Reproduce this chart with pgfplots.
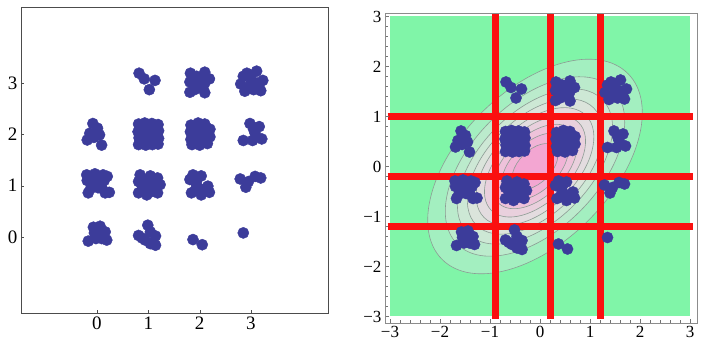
\documentclass[border=0pt]{standalone}
\usepackage{fontspec}
\setmainfont{Liberation Serif}
\usepackage{pgfplots}
\usepackage{pgfplotstable}
\pgfplotsset{compat=1.18}
\definecolor{ptc}{HTML}{3C3C9A}
\definecolor{bg}{HTML}{80F5A8}
\definecolor{c1}{HTML}{A3EFC0}
\definecolor{c2}{HTML}{BBEBCC}
\definecolor{c3}{HTML}{CDE8D5}
\definecolor{c4}{HTML}{DBE4DB}
\definecolor{c5}{HTML}{E3DCDF}
\definecolor{c6}{HTML}{E9D0DD}
\definecolor{c7}{HTML}{EEC2DA}
\definecolor{c8}{HTML}{F1B3D6}
\definecolor{c9}{HTML}{F3A6D2}
\definecolor{cl}{HTML}{8C9C94}
\definecolor{redl}{HTML}{FA1010}

% sample points (left panel coordinates)
\pgfplotstableread{
x y
0.82 3.19
0.92 3.08
1.13 3.05
1.02 2.87
1.82 3.19
2.10 3.21
2.19 3.08
1.81 3.02
2.00 3.03
2.06 2.90
1.81 2.82
2.10 2.81
1.94 3.13
1.90 2.87
2.08 3.10
1.92 2.95
2.10 3.00
2.92 3.19
3.11 3.23
3.23 3.05
2.80 2.98
2.88 2.84
3.19 2.85
3.01 3.03
3.05 2.87
2.85 3.13
3.00 3.15
3.12 3.00
2.95 2.92
3.15 2.95
-0.08 2.21
0.01 2.12
-0.14 2.02
0.05 1.99
-0.19 1.89
0.09 1.79
-0.06 1.94
0.81 2.20
0.93 2.22
1.07 2.21
1.19 2.19
0.80 2.05
1.20 2.07
0.82 1.93
1.20 1.92
0.81 1.80
0.95 1.79
1.08 1.80
1.19 1.81
0.95 2.00
1.05 1.95
1.00 2.10
1.10 2.05
0.90 1.90
0.88 2.12
1.12 2.12
0.88 1.88
1.12 1.88
1.83 2.18
1.97 2.22
2.10 2.20
2.20 2.10
1.82 2.05
2.20 1.95
1.83 1.90
1.85 1.80
2.00 1.79
2.15 1.82
1.95 2.00
2.05 2.00
2.00 2.10
2.10 1.90
1.92 1.90
1.90 2.12
2.12 2.10
2.00 1.90
2.98 2.21
3.16 2.15
3.08 2.02
2.85 1.88
3.03 1.88
3.21 1.91
3.05 2.10
-0.20 1.21
-0.04 1.23
0.12 1.21
0.20 1.18
-0.07 1.04
0.07 1.02
-0.17 0.86
0.16 0.86
0.24 0.87
-0.12 0.95
-0.19 1.10
0.10 0.95
0.00 1.12
-0.10 1.14
0.14 1.10
0.02 0.96
0.84 1.21
1.04 1.19
1.18 1.15
0.81 1.08
1.23 1.02
0.97 1.02
0.81 0.86
0.97 0.82
1.18 0.86
1.10 0.95
0.90 0.95
0.92 1.10
1.10 1.10
1.05 0.88
0.88 1.00
1.87 1.21
2.03 1.19
1.94 1.02
2.16 0.99
2.19 0.87
1.84 0.86
2.03 0.82
1.81 1.12
1.95 1.12
2.08 0.93
1.92 0.92
2.79 1.13
2.95 1.08
3.08 1.18
3.19 1.15
2.90 0.97
-0.07 0.19
0.06 0.21
0.16 0.10
0.03 0.03
-0.17 -0.08
-0.02 -0.03
0.19 -0.06
0.09 -0.03
-0.05 0.08
0.10 0.12
0.99 0.23
1.04 0.10
1.14 0.02
0.81 0.03
0.94 -0.06
1.14 -0.16
1.04 -0.13
0.88 -0.02
1.87 -0.05
2.05 -0.15
2.85 0.08
}\pts

\begin{document}
\begin{tikzpicture}[x=1pt,y=1pt]
\path[use as bounding box] (0,0) rectangle (709,352);
% ---------------- left panel
\begin{axis}[
  at={(21pt,39pt)}, anchor=south west, scale only axis,
  width=307pt, height=306pt,
  xmin=-1.48, xmax=4.5, ymin=-1.48, ymax=4.48,
  xtick={0,1,2,3}, ytick={0,1,2,3},
  tick pos=left, tick align=inside, major tick length=3pt,
  axis line style={draw=black!70, line width=0.6pt},
  tick style={draw=black!70},
  ticklabel style={font=\fontsize{19}{19}\selectfont},
  /pgf/number format/assume math mode=true,
]
\addplot[only marks, mark=*, mark size=5.6pt, color=ptc, mark options={draw=ptc, fill=ptc}] table {\pts};
\end{axis}
% ---------------- right panel
\begin{axis}[
  at={(385pt,29pt)}, anchor=south west, scale only axis,
  width=312pt, height=310pt,
  xmin=-3.1, xmax=3.14, ymin=-3.13, ymax=3.07,
  xtick={-3,-2,-1,0,1,2,3}, ytick={-3,-2,-1,0,1,2,3},
  xticklabels={−3,−2,−1,0,1,2,3}, yticklabels={−3,−2,−1,0,1,2,3},
  minor tick num=4,
  tick pos=left, tick align=inside, major tick length=4pt, minor tick length=2.5pt,
  axis line style={draw=black!45, line width=0.8pt},
  tick style={draw=black!55},
  ticklabel style={font=\fontsize{17}{17}\selectfont},
  axis on top,
]
\fill[bg] (axis cs:-3,-3) rectangle (axis cs:3,3);
\foreach \a/\b/\c in {131.4/75.85/c1, 109.85/63.45/c2, 95/54.85/c3, 82.9/47.85/c4, 72.1/41.6/c5, 61.9/35.75/c6, 51.7/29.85/c7, 40.9/23.6/c8, 28.1/16.25/c9}{
  \edef\temp{\noexpand\filldraw[fill=\c, draw=cl, line width=0.6pt] (axis cs:-0.1,0) ellipse [x radius=\a pt, y radius=\b pt, rotate=45];}
  \temp
}
\addplot[only marks, mark=*, mark size=5.6pt, color=ptc, mark options={draw=ptc, fill=ptc}] table[x expr=\thisrow{x}-1.5, y expr=\thisrow{y}-1.5] {\pts};
\addplot[redl, line width=7pt] coordinates {(-0.9,-3.05) (-0.9,3.05)};
\addplot[redl, line width=7pt] coordinates {(0.2,-3.05) (0.2,3.05)};
\addplot[redl, line width=7pt] coordinates {(1.2,-3.05) (1.2,3.05)};
\addplot[redl, line width=7pt] coordinates {(-3.05,1.0) (3.05,1.0)};
\addplot[redl, line width=7pt] coordinates {(-3.05,-0.2) (3.05,-0.2)};
\addplot[redl, line width=7pt] coordinates {(-3.05,-1.2) (3.05,-1.2)};
\end{axis}
\end{tikzpicture}
\end{document}
